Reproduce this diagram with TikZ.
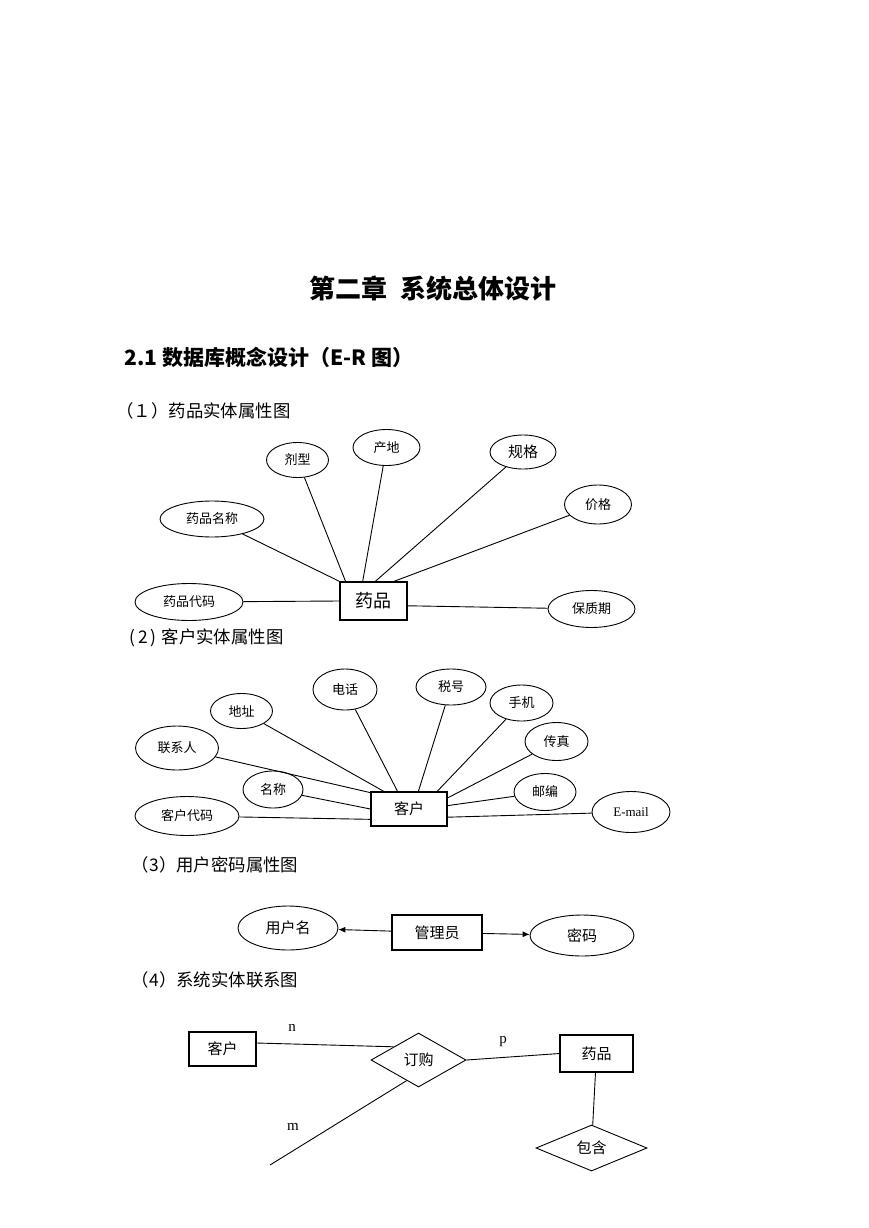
\documentclass[tikz,border=0pt]{standalone}
\usepackage{fontspec}
\setmainfont{Liberation Serif}
\newfontfamily\cjk{Noto Sans CJK SC}
\usetikzlibrary{shapes.geometric,arrows.meta}

\begin{document}
\begin{tikzpicture}[x=1pt, y=-1pt, line width=0.9pt,
    attr/.style={draw, ellipse, inner sep=0pt, font=\cjk\fontsize{13}{15}\selectfont},
    ent/.style={draw, rectangle, line width=1.1pt, inner sep=0pt, font=\cjk\fontsize{15}{18}\selectfont},
    rel/.style={draw, diamond, inner sep=0pt, font=\cjk\fontsize{15}{18}\selectfont},
    sub/.style={anchor=west, inner sep=0pt, font=\cjk\fontsize{17.4}{20}\selectfont},
    card/.style={inner sep=0pt, font=\fontsize{15}{18}\selectfont}]

    \useasboundingbox (0,0) rectangle (869,1228);

    % headings
    \node[font=\cjk\bfseries\fontsize{26}{30}\selectfont] (title) at (433,289) {第二章\hspace{13pt}系统总体设计};
    \node[anchor=west, inner sep=0pt, font=\cjk\bfseries\fontsize{21}{24}\selectfont] (sec) at (124,357.5) {2.1 数据库概念设计（E-R 图）};
    \node[sub] (s1) at (116,411) {（１）药品实体属性图};
    \node[sub] (s2) at (129,637.5) {(\,2\,)\hspace{5pt}客户实体属性图};
    \node[sub] (s3) at (131.5,865) {（3）用户密码属性图};
    \node[sub] (s4) at (131.5,980) {（4）系统实体联系图};

    % (1) drug entity
    \node[ent, minimum width=67pt, minimum height=38pt, font=\cjk\fontsize{18}{20}\selectfont] (yp) at (373.5,601) {药品};
    \foreach \n/\x/\y/\w/\h/\t/\a in {a1/212/519/104pt/36pt/药品名称/150,
        a2/297.5/460/62pt/35pt/剂型/145, a3/386.5/447.5/67pt/36pt/产地/119,
        a4/523/452/66pt/34pt/{\fontsize{15}{17}\selectfont 规格}/85,
        a5/598/504.5/67pt/39pt/价格/44, a6/189/602/108pt/37pt/药品代码/180,
        a7/591.5/609/87pt/37pt/保质期/352}
    {
        \node[attr, minimum width=\w, minimum height=\h] (\n) at (\x,\y) {\t};
        \draw (\n) -- (yp.\a);
    }

    % (2) customer entity
    \node[ent, minimum width=76pt, minimum height=34pt] (kh) at (409,809) {客户};
    \foreach \n/\x/\y/\w/\h/\t/\a in {b1/177/748/83pt/44pt/联系人/157,
        b2/241.5/711/62pt/35pt/地址/145, b3/345/689.5/64pt/41pt/电话/123,
        b4/451/687/70pt/36pt/税号/62, b5/521.5/703/63pt/36pt/手机/32,
        b6/556.5/741.5/63pt/38pt/传真/16, b7/273/789.5/60pt/37pt/名称/180,
        b8/187/816/104pt/39pt/客户代码/195, b9/545/792/62pt/37pt/邮编/5}
    {
        \node[attr, minimum width=\w, minimum height=\h] (\n) at (\x,\y) {\t};
        \draw (\n) -- (kh.\a);
    }
    \node[attr, minimum width=78pt, minimum height=41pt, font=\fontsize{13}{15}\selectfont] (em) at (631,812) {E-mail};
    \draw (em) -- (kh.348);

    % (3) user / password
    \node[attr, minimum width=100pt, minimum height=44pt, font=\cjk\fontsize{15}{18}\selectfont] (yhm) at (288,928) {用户名};
    \node[ent, minimum width=90pt, minimum height=35pt] (gly) at (437,932.5) {管理员};
    \node[attr, minimum width=104pt, minimum height=41pt, font=\cjk\fontsize{15}{18}\selectfont] (mm) at (582,935.5) {密码};
    \draw[-{Latex[length=7pt,width=6pt]}] (gly) -- (yhm);
    \draw[-{Latex[length=7pt,width=6pt]}] (gly) -- (mm);

    % (4) system E-R
    \node[ent, minimum width=67pt, minimum height=34pt] (kh2) at (222.5,1049) {客户};
    \node[rel, minimum width=95pt, minimum height=54pt] (dg) at (418.5,1060) {订购};
    \node[ent, minimum width=73pt, minimum height=37pt] (yp2) at (596.5,1053.5) {药品};
    \node[rel, minimum width=111pt, minimum height=46pt] (bh) at (591.5,1148) {包含};
    \coordinate (mend) at (270,1165);
    \draw (kh2.10) -- (dg.152);
    \draw (dg.east) -- (yp2.west);
    \draw (yp2) -- (bh);
    \draw (dg.240) -- (mend);
    \node[card] (cn) at (292,1028) {n};
    \node[card] (cp) at (503,1042) {p};
    \node[card] (cm) at (293,1127) {m};

\end{tikzpicture}
\end{document}
